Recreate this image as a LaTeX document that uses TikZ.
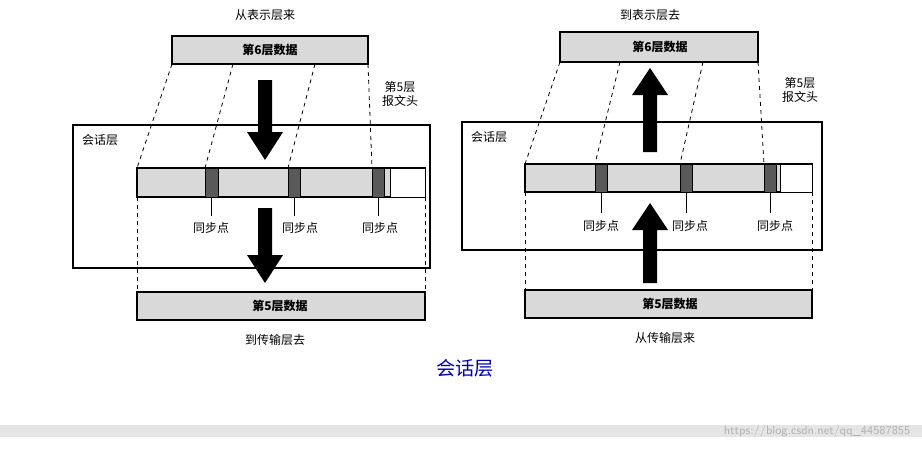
\documentclass[tikz,border=0pt]{standalone}
\usepackage{fontspec}
\newfontfamily\cjk{Noto Sans CJK SC}
\begin{document}
\begin{tikzpicture}[x=0.75pt,y=-0.75pt,
  bar/.style={draw,line width=1pt,fill=gray!30},
  syncmark/.style={draw,fill=gray!70!black},
  hdr/.style={draw,fill=white},
  lbl/.style={font=\cjk\small},
  dsh/.style={dashed,line width=0.6pt},
  bigarrow/.style={fill=black}]
\useasboundingbox (0,0) rectangle (922,451);
% ---------- left ----------
\node[lbl] (lt) at (265,15) {从表示层来};
\draw[bar] (172,36) rectangle (368,64);
\node[lbl,font=\cjk\small\bfseries] (l6) at (270,50) {第6层数据};
\draw[line width=1pt] (73,125) rectangle (430,268);
\node[lbl] (ls) at (100,140) {会话层};
\draw[bar,line width=0.8pt] (137,168) rectangle (425,197);
\draw[syncmark] (205,168) rectangle (218,197);
\draw[syncmark] (288,168) rectangle (300,197);
\draw[syncmark] (372,168) rectangle (384,197);
\draw[hdr] (390,168) rectangle (425,197);
\node[lbl,align=center] (lh) at (400,94) {第5层\\报文头};
\draw[dsh] (172,64) -- (137,168) (233,64) -- (205,168) (315,64) -- (288,168) (368,64) -- (372,168);
\draw[dsh] (137,197) -- (137,292) (425,197) -- (425,292);
\draw (211,197) -- (211,216) (294,197) -- (294,216) (378,197) -- (378,216);
\node[lbl] (l1) at (211,228) {同步点};
\node[lbl] (l2) at (300,228) {同步点};
\node[lbl] (l3) at (380,228) {同步点};
\fill[bigarrow] (258,80) -- (272,80) -- (272,132) -- (283,132) -- (265,160) -- (247,132) -- (258,132) -- cycle;
\fill[bigarrow] (258,208) -- (272,208) -- (272,255) -- (283,255) -- (265,283) -- (247,255) -- (258,255) -- cycle;
\draw[bar] (137,292) rectangle (425,320);
\node[lbl,font=\cjk\small\bfseries] (l5) at (280,306) {第5层数据};
\node[lbl] (lb) at (275,340) {到传输层去};
% ---------- right ----------
\node[lbl] (rt) at (650,15) {到表示层去};
\draw[bar] (560,32) rectangle (758,62);
\node[lbl,font=\cjk\small\bfseries] (r6) at (660,47) {第6层数据};
\draw[line width=1pt] (462,122) rectangle (822,250);
\node[lbl] (rs) at (489,137) {会话层};
\draw[bar,line width=0.8pt] (525,164) rectangle (812,192);
\draw[syncmark] (595,164) rectangle (607,192);
\draw[syncmark] (680,164) rectangle (692,192);
\draw[syncmark] (764,164) rectangle (776,192);
\draw[hdr] (780,164) rectangle (812,192);
\node[lbl,align=center] (rh) at (800,90) {第5层\\报文头};
\draw[dsh] (560,62) -- (525,164) (620,62) -- (595,164) (703,62) -- (680,164) (758,62) -- (764,164);
\draw[dsh] (525,192) -- (525,290) (812,192) -- (812,290);
\draw (601,192) -- (601,213) (686,192) -- (686,213) (770,192) -- (770,213);
\node[lbl] (r1) at (601,226) {同步点};
\node[lbl] (r2) at (690,226) {同步点};
\node[lbl] (r3) at (775,226) {同步点};
\fill[bigarrow] (643,152) -- (657,152) -- (657,95) -- (668,95) -- (650,68) -- (632,95) -- (643,95) -- cycle;
\fill[bigarrow] (643,283) -- (657,283) -- (657,230) -- (668,230) -- (650,203) -- (632,230) -- (643,230) -- cycle;
\draw[bar] (525,290) rectangle (812,318);
\node[lbl,font=\cjk\small\bfseries] (r5) at (670,304) {第5层数据};
\node[lbl] (rb) at (665,338) {从传输层来};
% ---------- caption ----------
\node[font=\cjk\Large,text=blue!70!black] (cap) at (465,368) {会话层};
\fill[gray!20] (0,425) rectangle (922,437);
\node[font=\sffamily\small,text=gray!60,anchor=east] (url) at (915,431) {https://blog.csdn.net/qq\_44587855};
\end{tikzpicture}
\end{document}
